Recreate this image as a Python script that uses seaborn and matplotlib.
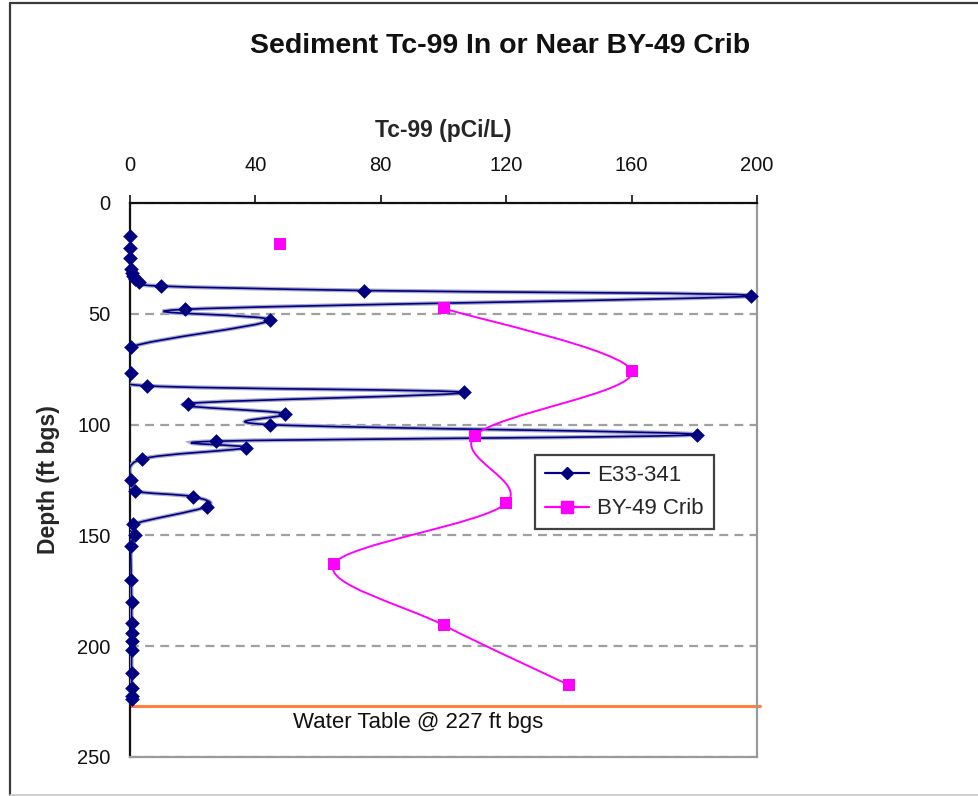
import numpy as np
import pandas as pd
import matplotlib
matplotlib.use("Agg")
import matplotlib.pyplot as plt
import seaborn as sns
from matplotlib.path import Path
from matplotlib.patches import PathPatch
from matplotlib.lines import Line2D

# E33-341 borehole: Tc-99 (pCi/L) vs depth (ft bgs)
e33_tc = [0, 0, 0, 0.3, 0.5, 1, 1.5, 3, 10, 74.5, 198, 17.5, 44.5, 0.3, 0.2,
          5.5, 106.5, 18.5, 49.5, 44.5, 181, 27.5, 37, 3.8, 0.3, 1.5, 20, 24.5,
          1, 1.5, 0.3, 0.4, 0.5, 0.5, 0.5, 0.5, 0.5, 0.5, 0.5, 0.5, 0.5]
e33_depth = [15, 20.5, 25, 30, 31.5, 33, 34.5, 35.5, 37.5, 39.5, 42, 48, 53, 65, 76.5,
             82.5, 85.5, 90.5, 95, 100, 104.5, 107.5, 110.5, 115.5, 125, 130, 132.5, 137,
             145, 150, 155, 170, 180, 189.5, 194, 197.5, 201.5, 212, 219, 222.5, 224]

# BY-49 crib: first sample stands alone, the rest are joined
crib_tc = [48, 100, 160, 110, 120, 65, 100, 140]
crib_depth = [18.5, 47.5, 76, 105, 135.5, 163, 190.5, 217.5]

water_table = 227
x_ticks = [0, 40, 80, 120, 160, 200]
y_ticks = [0, 50, 100, 150, 200, 250]

sns.set_style("white")
plt.rcParams['font.family'] = ['Liberation Sans', 'DejaVu Sans']

W, H = 979, 796
fig = plt.figure(figsize=(W / 100, H / 100), dpi=100)
ax_l, ax_r, ax_t, ax_b = 130, 757, 203, 757
ax = fig.add_axes([ax_l / W, 1 - ax_b / H, (ax_r - ax_l) / W, (ax_b - ax_t) / H])

# pixel scale of the data units, used so the smoothing looks like Excel's
sx = (ax_r - ax_l) / 200
sy = (ax_b - ax_t) / 250


def smooth_path(xs, ys):
    px = np.asarray(xs, float) * sx
    py = np.asarray(ys, float) * sy
    n = len(px)
    verts = [(px[0], py[0])]
    codes = [Path.MOVETO]
    for i in range(n - 1):
        p0 = np.array([px[max(i - 1, 0)], py[max(i - 1, 0)]])
        p1 = np.array([px[i], py[i]])
        p2 = np.array([px[i + 1], py[i + 1]])
        p3 = np.array([px[min(i + 2, n - 1)], py[min(i + 2, n - 1)]])
        c1 = p1 + (p2 - p0) / 6
        c2 = p2 - (p3 - p1) / 6
        verts += [tuple(c1), tuple(c2), tuple(p2)]
        codes += [Path.CURVE4] * 3
    verts = [(x / sx, y / sy) for x, y in verts]
    return Path(verts, codes)


navy = "#000080"
magenta = "#FF00FF"

# smoothed lines
ax.add_patch(PathPatch(smooth_path(e33_tc, e33_depth), fill=False,
                       edgecolor="#A9A9CC", lw=3.0, zorder=3))
ax.add_patch(PathPatch(smooth_path(e33_tc, e33_depth), fill=False,
                       edgecolor=navy, lw=1.2, zorder=3.1))
ax.add_patch(PathPatch(smooth_path(crib_tc[1:], crib_depth[1:]), fill=False,
                       edgecolor=magenta, lw=1.4, zorder=4))

e33 = pd.DataFrame({"tc": e33_tc, "depth": e33_depth})
crib = pd.DataFrame({"tc": crib_tc, "depth": crib_depth})
sns.scatterplot(data=e33, x="tc", y="depth", marker="D", s=56, color=navy,
                edgecolor=navy, linewidth=0, zorder=5, ax=ax, clip_on=False)
sns.scatterplot(data=crib, x="tc", y="depth", marker="s", s=76, color=magenta,
                edgecolor=magenta, linewidth=0, zorder=6, ax=ax)

# water table
ax.axhline(water_table, color="#FF8040", lw=2.2, zorder=2, clip_on=False,
           xmax=1.004)
ax.text(92, 234.5, "Water Table @ 227 ft bgs", ha="center", va="center",
        fontsize=16, color="#111111")

ax.set_xlim(0, 200)
ax.set_ylim(250, 0)
ax.set_xticks(x_ticks)
ax.set_yticks(y_ticks)
ax.xaxis.tick_top()
ax.xaxis.set_label_position("top")
ax.tick_params(axis="x", direction="out", length=6, width=1.2, pad=14,
               labelsize=14.5, colors="#111111")
ax.tick_params(axis="y", direction="out", length=7, width=1.2, pad=7,
               labelsize=14.5, colors="#111111")

ax.grid(axis="y", color="#A0A0A0", lw=1.6, ls=(0, (4, 2.8)))
ax.grid(axis="x", visible=False)
ax.set_axisbelow(True)

for side in ["left", "top"]:
    ax.spines[side].set_color("#111111")
    ax.spines[side].set_linewidth(1.6)
for side in ["right", "bottom"]:
    ax.spines[side].set_color("#9A9A9A")
    ax.spines[side].set_linewidth(1.6)

ax.set_xlabel("Tc-99 (pCi/L)", fontsize=16.5, fontweight="bold")
ax.xaxis.set_label_coords(0.5, 1.12)
ax.set_ylabel("Depth (ft bgs)", fontsize=16.5, fontweight="bold")
ax.yaxis.set_label_coords(-0.112, 0.5)

handles = [
    Line2D([], [], color=navy, lw=1.6, marker="D", markersize=6.5),
    Line2D([], [], color=magenta, lw=1.6, marker="s", markersize=8.5),
]
leg = ax.legend(handles, ["E33-341", "BY-49 Crib"], loc="upper left",
                bbox_to_anchor=(0.646, 0.545), borderaxespad=0, fontsize=16,
                frameon=True, fancybox=False, handlelength=2.0,
                handletextpad=0.35, labelspacing=0.55, borderpad=0.45)
leg.get_frame().set_edgecolor("#111111")
leg.get_frame().set_linewidth(1.6)
leg.set_zorder(7)

fig.text(500 / W, 1 - 46 / H, "Sediment Tc-99 In or Near BY-49 Crib",
         ha="center", va="center", fontsize=20.5, fontweight="bold",
         color="#111111")

# chart area border
fig.add_artist(Line2D([9.5 / W, 9.5 / W], [1.5 / H, 1 - 2.5 / H],
                      color="#3A3A3A", lw=1.6))
fig.add_artist(Line2D([9.5 / W, 1], [1 - 2.5 / H, 1 - 2.5 / H],
                      color="#3A3A3A", lw=1.6))
fig.add_artist(Line2D([9.5 / W, 1], [1.5 / H, 1.5 / H],
                      color="#C8C8C8", lw=1.2))

fig.savefig("out.png", dpi=100)
